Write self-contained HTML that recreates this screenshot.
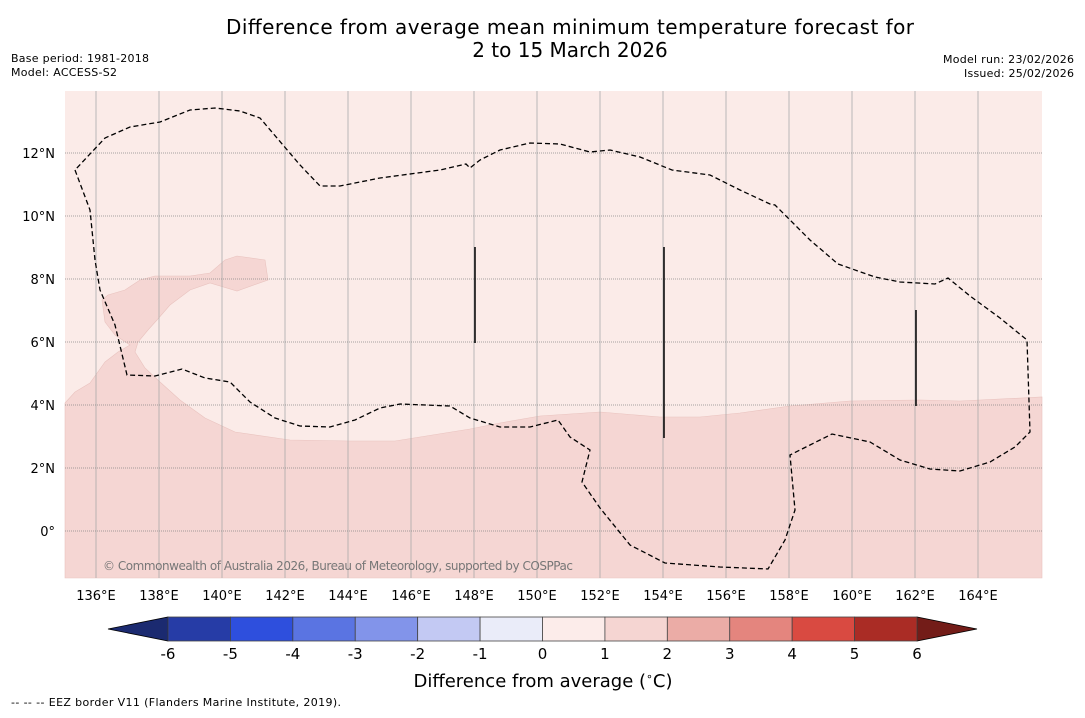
<!DOCTYPE html>
<html><head><meta charset="utf-8"><style>
body{margin:0;background:#fff;width:1085px;height:713px;overflow:hidden;font-family:"Liberation Sans","DejaVu Sans",sans-serif}
svg text{font-family:"DejaVu Sans","Liberation Sans",sans-serif}
</style></head><body>
<svg id="c" width="1085" height="713">
<text x="570" y="34" font-size="20" textLength="688" text-anchor="middle">Difference from average mean minimum temperature forecast for</text>
<text x="570" y="57" font-size="20" text-anchor="middle">2 to 15 March 2026</text>
<text x="11" y="62" font-size="11" textLength="138">Base period: 1981-2018</text>
<text x="11" y="76" font-size="11" textLength="106">Model: ACCESS-S2</text>
<text x="1074" y="63" font-size="11" text-anchor="end" textLength="131">Model run: 23/02/2026</text>
<text x="1074" y="77" font-size="11" text-anchor="end" textLength="110">Issued: 25/02/2026</text>
<g id="map"></g>
<g id="cbar"></g>
<text x="543" y="687" font-size="18" text-anchor="middle">Difference from average (<tspan font-size="11" dy="-7">∘</tspan><tspan dy="7">C)</tspan></text>
<text x="11" y="706" font-size="11" textLength="330">--  --  -- EEZ border V11 (Flanders Marine Institute, 2019).</text>
</svg>
<script>
const lonTicks=[136,138,140,142,144,146,148,150,152,154,156,158,160,162,164];
const latTicks=[0,2,4,6,8,10,12];
const levels=[-6,-5,-4,-3,-2,-1,0,1,2,3,4,5,6];
const levelColors=["#263ca6","#2e4fdd","#5a74e2","#8294ea","#c3c9f3","#eaecf9","#fcecea","#f5d5d2","#ebaca6","#e4857e","#d94a41","#aa2c25"];
const NS="http://www.w3.org/2000/svg";
const X0=64.5,Y0=531,S=31.5;
const px=lon=>X0+(lon-135)*S, py=lat=>Y0-lat*S;
function mk(t,a,p){const e=document.createElementNS(NS,t);for(const k in a)e.setAttribute(k,a[k]);(p||document.getElementById('map')).appendChild(e);return e;}
const map=document.getElementById('map');
let r=mk('rect',{x:65,y:91,width:977,height:487,fill:'#fbebe8'});


const darkPts=[[65,403],[75,392],[90,383],[105,362],[118,352],[130,345],[115,335],[105,322],[102,300],[108,295],[125,290],[140,280],[155,276],[190,276],[210,273],[225,260],[237,256],[265,260],[268,280],[237,291],[210,283],[190,290],[170,305],[157,320],[148,330],[138,342],[135,352],[145,368],[160,382],[180,400],[205,418],[235,432],[290,440],[350,441],[395,441],[420,437],[470,429],[500,423],[540,416],[600,412],[660,417],[700,417],[740,413],[790,406],[850,401],[920,400],[960,401],[1042,397],[1042,578],[65,578]];
let d=mk('polygon',{points:darkPts.map(p=>p.join(',')).join(' '),fill:'#f5d6d3',stroke:'#e9c3bf','stroke-width':0.6});


lonTicks.forEach(l=>{const x=px(l);
 let g=mk('line',{x1:x,y1:91,x2:x,y2:578,stroke:'#aaa','stroke-width':0.8});
 
 
 let t=mk('text',{x:x,y:600,'font-size':13,'text-anchor':'middle'});t.textContent=l+'°E';
 
 });
latTicks.forEach(l=>{const y=py(l);
 let g=mk('line',{x1:65,y1:y,x2:1042,y2:y,stroke:'#888','stroke-width':0.8,'stroke-dasharray':'1,1'});
 
 
 let t=mk('text',{x:55,y:y+5,'font-size':13,'text-anchor':'end'});t.textContent=(l===0?'0°':l+'°N');
 
 });
const eez=[[75,170],[90,210],[95,260],[100,290],[115,325],[127,375],[155,376],[182,369],[205,378],[230,382],[250,402],[275,418],[300,426],[330,427],[355,420],[380,408],[400,404],[450,406],[470,418],[500,427],[530,427],[558,420],[570,437],[590,450],[582,482],[600,508],[630,545],[665,563],[720,567],[768,569],[785,540],[795,510],[790,455],[810,445],[832,434],[870,442],[900,460],[930,469],[960,471],[990,462],[1015,447],[1030,432],[1027,340],[1000,318],[970,296],[948,278],[935,284],[900,282],[875,277],[838,264],[810,240],[775,205],[770,204],[740,190],[710,175],[672,170],[640,157],[610,150],[590,152],[560,144],[530,143],[500,150],[480,160],[470,168],[466,164],[440,170],[380,178],[340,186],[320,186],[300,165],[260,118],[240,111],[215,108],[190,110],[160,122],[130,127],[105,138],[75,170]];
let e=mk('polyline',{points:eez.map(p=>p.join(',')).join(' '),fill:'none',stroke:'#000','stroke-width':1.3,'stroke-dasharray':'5,3'});


[[475,247,343],[664,247,438],[916,310,406]].forEach(v=>{let l=mk('line',{x1:v[0],y1:v[1],x2:v[0],y2:v[2],stroke:'#000','stroke-width':1.5});
 
 });
let cp=mk('text',{x:103,y:570,'font-size':12,fill:'#777',textLength:470});cp.textContent='© Commonwealth of Australia 2026, Bureau of Meteorology, supported by COSPPac';


const cb=document.getElementById('cbar');
const CX0=168,CX1=917,CY=617,CH=24,cw=(CX1-CX0)/levelColors.length;
let lt=mk('polygon',{points:`108,629 ${CX0},${CY} ${CX0},${CY+CH}`,fill:'#1b2a70',stroke:'#000','stroke-width':0.8},cb);


let rt=mk('polygon',{points:`977,629 ${CX1},${CY} ${CX1},${CY+CH}`,fill:'#731c18',stroke:'#000','stroke-width':0.8},cb);


levelColors.forEach((c,i)=>{let s=mk('rect',{x:CX0+i*cw,y:CY,width:cw,height:CH,fill:c,stroke:'#444','stroke-width':0.8},cb);
 
 });
levels.forEach((v,i)=>{let t=mk('text',{x:CX0+i*cw,y:659,'font-size':15,'text-anchor':'middle'},cb);t.textContent=v;
 
 });
</script>
</body></html>
